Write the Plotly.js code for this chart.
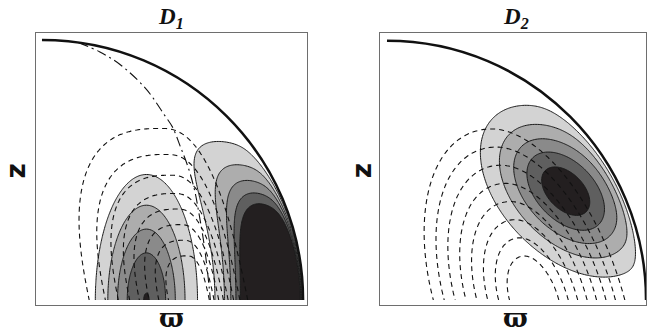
<!DOCTYPE html>
<html>
<head>
<meta charset="utf-8">
<script src="https://cdn.plot.ly/plotly-3.0.1.min.js"></script>
<style>
  html, body { margin: 0; padding: 0; background: #fff; }
  #chart { width: 647px; height: 335px; }
</style>
</head>
<body>
<div id="chart"></div>
<script>
// filled contour levels (both panels) and the grey of each band, lowest first
const FILL_LEVELS = [0.2, 0.4, 0.6, 0.8, 1.0];
const BAND_COLORS = ['#ffffff', '#d3d3d3', '#adadad', '#8a8a8a', '#5f5f5f', '#231f20'];

// D1 equatorial lobe: centre w, w-width, z-width, peak
const D1_INNER = [0.40, 0.154, 0.38, 1.005];
// D1 surface lobe: radius of peak, radial width, z-width, peak
const D1_OUTER = [0.91, 0.155, 0.382, 2.56];
// D2 lobe: centre w, centre z, major sd, minor sd, peak
const D2_LOBE = [0.69, 0.42, 0.30, 0.185, 1.149];
const D2_AXIS = [-0.7, 0.71];
// how fast each field drops to zero at the surface
const EDGE = [0.02, 0.025];

// dashed streamlines: heights of the nested arcs
const D1_ARC_TOPS = [0.66, 0.56, 0.48, 0.41, 0.35, 0.29, 0.23, 0.17];
const D2_ARC_TOPS = [0.66, 0.59, 0.52, 0.45, 0.38, 0.31, 0.24, 0.17];
// arc shape: foot centre, lean, left spread, right spread, exponent
const D1_ARC_SHAPE = [0.59, 0.20, 0.62, 0.30, 2.6];
const D2_ARC_SHAPE = [0.575, 0.26, 0.60, 0.52, 2];

// dash-dot curve in D1
const D1_NULL_W = [0.14, 0.22, 0.30, 0.40, 0.47, 0.50, 0.53, 0.56, 0.585, 0.60, 0.62, 0.635, 0.645];
const D1_NULL_Z = [0.99, 0.955, 0.905, 0.81, 0.71, 0.665, 0.59, 0.51, 0.42, 0.34, 0.22, 0.10, 0.0];

const N = 161;
const grid = Array.from({ length: N }, (_, i) => i / (N - 1));
const sq = v => v * v;

function d1Field(x, y) {
  const r = Math.hypot(x, y);
  if (r >= 1) return 0;
  const [cw, sw, sz, a] = D1_INNER;
  const inner = a * Math.exp(-sq((x - cw) / sw) - sq(y / sz));
  const [rp, rw, oz, b] = D1_OUTER;
  const outer = b * Math.exp(-sq((r - rp) / rw) - sq(y / oz)) * Math.tanh((1 - r) / EDGE[0]);
  return Math.max(inner, outer);
}

function d2Field(x, y) {
  const r = Math.hypot(x, y);
  if (r >= 1) return 0;
  const [cw, cz, s1, s2, c] = D2_LOBE;
  const dx = x - cw, dy = y - cz;
  const u = dx * D2_AXIS[0] + dy * D2_AXIS[1];
  const v = dx * D2_AXIS[1] - dy * D2_AXIS[0];
  return c * Math.exp(-sq(u / s1) - sq(v / s2)) * Math.tanh((1 - r) / EDGE[1]);
}

function arcField(x, y, shape) {
  const [xc, lean, eL, eR, p] = shape;
  const dx = x - xc + lean * y;
  const e = dx < 0 ? eL : eR;
  return Math.pow(Math.pow(Math.abs(dx) / e, p) + Math.pow(y, p), 1 / p);
}

const sample = f => grid.map(y => grid.map(x => f(x, y)));

const colorscale = BAND_COLORS.map((c, i) => [i / (BAND_COLORS.length - 1), c]);
const step = FILL_LEVELS[1] - FILL_LEVELS[0];

function fillTrace(z, xa, ya) {
  return {
    type: 'contour', x: grid, y: grid, z, xaxis: xa, yaxis: ya,
    autocontour: false,
    contours: { start: FILL_LEVELS[0], end: FILL_LEVELS[FILL_LEVELS.length - 1], size: step, coloring: 'fill' },
    colorscale, showscale: false,
    line: { color: '#1a1a1a', width: 1, smoothing: 0.8 },
    hoverinfo: 'skip',
  };
}

function arcTraces(tops, shape, xa, ya) {
  const z = sample((x, y) => arcField(x, y, shape));
  return tops.map(h => ({
    type: 'contour', x: grid, y: grid, z, xaxis: xa, yaxis: ya,
    autocontour: false,
    contours: { start: h, end: h, size: 1, coloring: 'none' },
    showscale: false,
    line: { color: '#111', width: 1.1, dash: '5px,4px', smoothing: 1 },
    hoverinfo: 'skip',
  }));
}

const data = [
  fillTrace(sample(d1Field), 'x', 'y'),
  ...arcTraces(D1_ARC_TOPS, D1_ARC_SHAPE, 'x', 'y'),
  {
    type: 'scatter', mode: 'lines', x: D1_NULL_W, y: D1_NULL_Z, xaxis: 'x', yaxis: 'y',
    line: { color: '#111', width: 1.1, dash: '10px,4px,2px,4px', shape: 'spline' },
    hoverinfo: 'skip', showlegend: false,
  },
  fillTrace(sample(d2Field), 'x2', 'y2'),
  ...arcTraces(D2_ARC_TOPS, D2_ARC_SHAPE, 'x2', 'y2'),
];

const frame = {
  showgrid: false, zeroline: false, showticklabels: false, ticks: '',
  showline: true, mirror: true, linecolor: '#6e6e6e', linewidth: 1.3, fixedrange: true,
};

const surface = (xr, yr) => ({
  type: 'path', xref: xr, yref: yr, layer: 'above',
  path: 'M 0 1 C 0.5523 1 1 0.5523 1 0',
  line: { color: '#111', width: 2.5 },
});

const titleFont = { family: 'Liberation Serif', size: 23, color: '#111' };
const labelFont = { family: 'DejaVu Sans', size: 26, color: '#111' };
const varpiFont = { family: 'DejaVu Serif', size: 26, color: '#111' };

const note = (text, x, y, font, angle = 0, yanchor = 'middle') => ({
  text, x, y, xref: 'paper', yref: 'paper', showarrow: false,
  xanchor: 'center', yanchor, font, textangle: angle,
});

const layout = {
  width: 647, height: 335,
  margin: { l: 0, r: 0, t: 0, b: 0 },
  paper_bgcolor: '#fff', plot_bgcolor: '#fff',
  showlegend: false,
  xaxis: { ...frame, anchor: 'y', domain: [0.0556, 0.4745], range: [-0.023, 1.015] },
  yaxis: { ...frame, anchor: 'x', domain: [0.0896, 0.9015], range: [-0.019, 1.027] },
  xaxis2: { ...frame, anchor: 'y2', domain: [0.5873, 0.9985], range: [-0.027, 1.0] },
  yaxis2: { ...frame, anchor: 'x2', domain: [0.0896, 0.9015], range: [-0.019, 1.03] },
  shapes: [surface('x', 'y'), surface('x2', 'y2')],
  annotations: [
    note('<b><i>D</i></b><sub><b><i>1</i></b></sub>', 0.265, 0.947, titleFont),
    note('<b><i>D</i></b><sub><b><i>2</i></b></sub>', 0.797, 0.947, titleFont),
    note('<b>z</b>', 0.024, 0.49, labelFont, -90),
    note('<b>z</b>', 0.56, 0.49, labelFont, -90),
    note('<b>ϖ</b>', 0.265, 0.0, varpiFont, 0, 'bottom'),
    note('<b>ϖ</b>', 0.797, 0.0, varpiFont, 0, 'bottom'),
  ],
};

Plotly.newPlot('chart', data, layout, { displayModeBar: false, staticPlot: true });
</script>
</body>
</html>
